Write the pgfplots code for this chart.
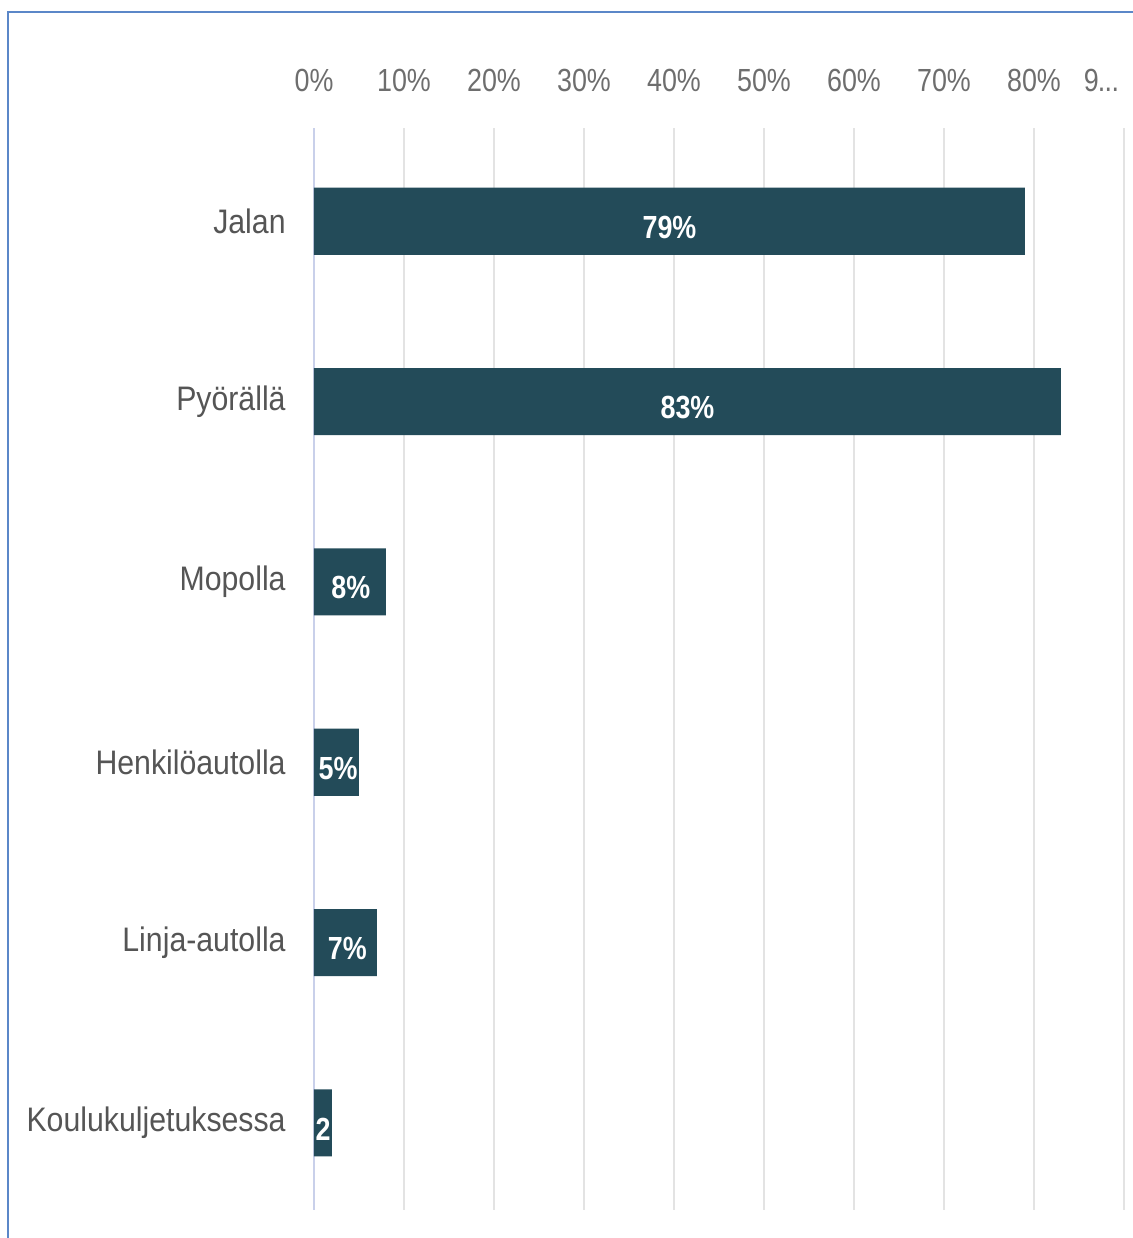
\documentclass[border=0pt]{standalone}
\usepackage{fontspec}
\setmainfont{Liberation Sans}[FakeStretch=0.84]
\newfontfamily\catfont{Liberation Sans}[FakeStretch=0.89]
\usepackage{pgfplots}
\pgfplotsset{compat=1.18}
\definecolor{barc}{HTML}{234B59}
\definecolor{gridc}{HTML}{E3E3E3}
\definecolor{zeroc}{HTML}{C9D0EA}
\definecolor{framec}{HTML}{5B87C8}
\definecolor{tickc}{HTML}{6E6E6E}
\definecolor{catc}{HTML}{555555}
\begin{document}
\begin{tikzpicture}
\useasboundingbox (0,0) rectangle (566.5pt,-619pt);
\draw[framec, line width=0.8pt] (4pt,-619pt) -- (4pt,-6pt) -- (566.5pt,-6pt);
\begin{axis}[
  at={(157pt,-64pt)}, anchor=north west,
  width=405pt, height=541pt, scale only axis,
  xmin=0, xmax=90, ymin=-0.517, ymax=5.483, y dir=reverse,
  ytick={0,...,5},
  yticklabels={Jalan,Pyörällä,Mopolla,Henkilöautolla,Linja-autolla,Koulukuljetuksessa},
  xtick={10,20,...,90},
  xticklabels={10\%,20\%,30\%,40\%,50\%,60\%,70\%,80\%,\makebox[0pt][r]{9\kern-0.5pt.\kern-0.3pt.\kern-0.3pt.\hspace{2.5pt}}},
  extra x ticks={0}, extra x tick labels={0\%},
  extra x tick style={major grid style={zeroc, line width=0.7pt}},
  xmajorgrids,
  major grid style={gridc, line width=0.6pt},
  axis line style={draw=none},
  major tick length=0pt,
  xticklabel pos=upper,
  xticklabel style={anchor=south, inner sep=0pt, yshift=18pt, text=tickc, font=\fontsize{16pt}{16pt}\selectfont},
  yticklabel style={anchor=east, inner sep=0pt, xshift=-14pt, text=catc, font=\catfont\fontsize{17pt}{17pt}\selectfont},
  clip=false,
]
\addplot[xbar, fill=barc, draw=none, bar width=0.372] coordinates {
  (79,0) (83,1) (8,2) (5,3) (7,4) (2,5)
};
\addplot[draw=none, mark=none, nodes near coords, point meta=explicit symbolic,
  nodes near coords style={anchor=center, text=white, yshift=-3pt, font=\bfseries\fontsize{16pt}{16pt}\selectfont}]
  coordinates {
  (39.5,0) [79\%] (41.5,1) [83\%] (4.1,2) [8\%] (2.67,3) [5\%] (3.7,4) [7\%] (1.0,5) [2]
};
\end{axis}
\end{tikzpicture}
\end{document}
